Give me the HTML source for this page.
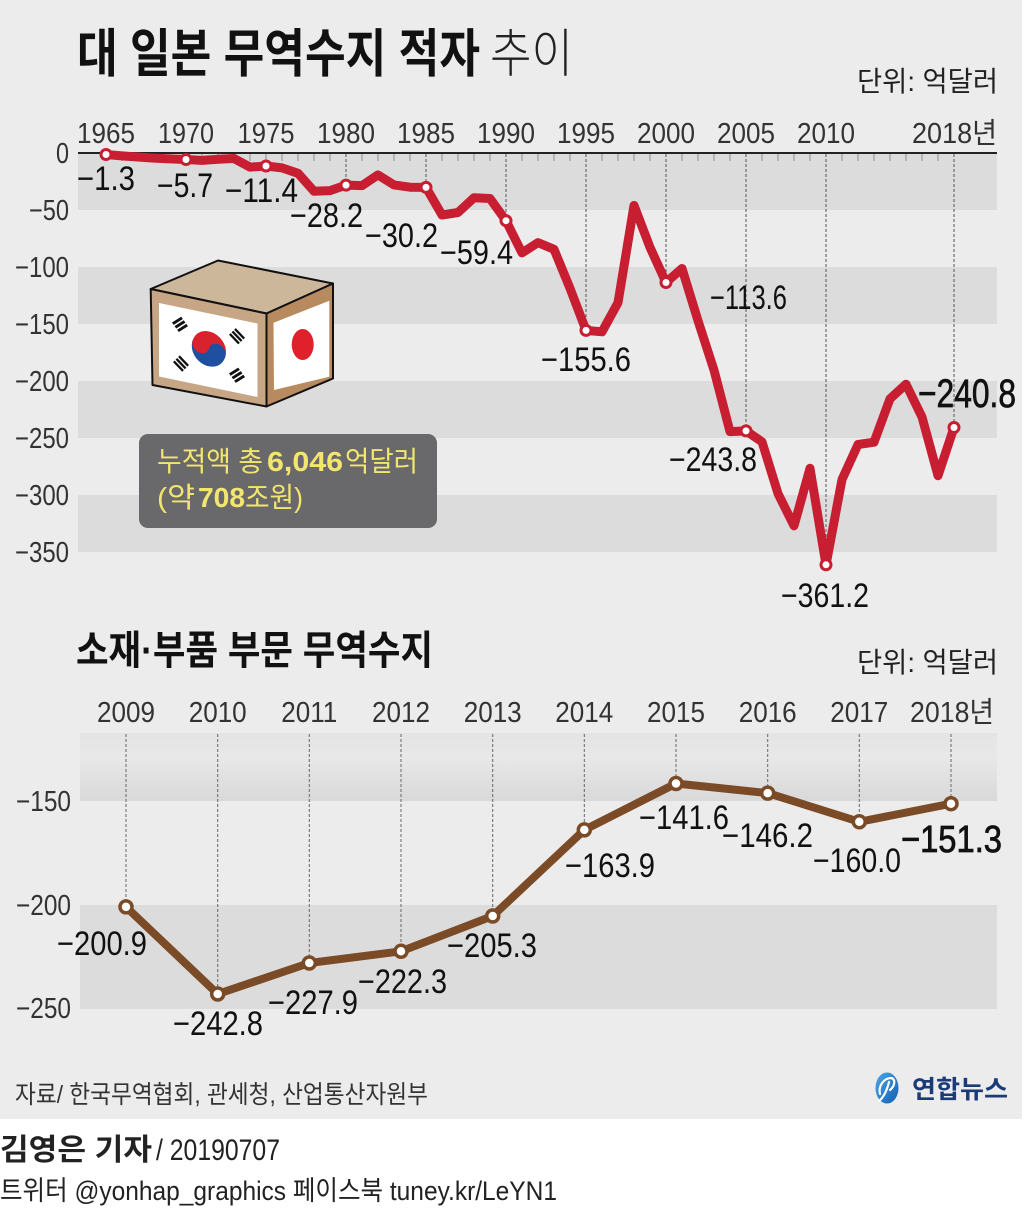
<!DOCTYPE html>
<html><head><meta charset="utf-8"><style>
html,body{margin:0;padding:0;background:#fff;}
svg{display:block;}
</style></head><body>
<svg xmlns="http://www.w3.org/2000/svg" width="1024" height="1208" viewBox="0 0 1024 1208">
<defs>
<linearGradient id="g1" x1="0" y1="0" x2="0" y2="1">
<stop offset="0" stop-color="#e4e4e5"/><stop offset="0.35" stop-color="#e8e8e8"/><stop offset="1" stop-color="#d9d9da"/>
</linearGradient>
<linearGradient id="lg" x1="0" y1="0" x2="1" y2="1">
<stop offset="0" stop-color="#4aa6ea"/><stop offset="1" stop-color="#1460b0"/>
</linearGradient>
</defs>
<rect width="1024" height="1208" fill="#ffffff"/>
<rect x="0" y="0" width="1022" height="1119" fill="#ececec"/>

<!-- Title -->
<g font-family="'Liberation Sans','Noto Sans CJK KR',sans-serif">
<text x="77" y="72" font-size="52" font-weight="bold" fill="#111" textLength="403" lengthAdjust="spacingAndGlyphs">대 일본 무역수지 적자</text>
<text x="490" y="72" font-size="52" font-weight="300" fill="#222" textLength="83" lengthAdjust="spacingAndGlyphs">추이</text>
<text x="857" y="91" font-size="28" fill="#222" textLength="141" lengthAdjust="spacingAndGlyphs">단위: 억달러</text>
</g>

<!-- Top chart bands -->
<g fill="#dcdcdd">
<rect x="78" y="153" width="919" height="57"/>
<rect x="78" y="267" width="919" height="57"/>
<rect x="78" y="381" width="919" height="57"/>
<rect x="78" y="495" width="919" height="57"/>
</g>

<!-- ticks -->
<g stroke="#8a8a8a" stroke-width="1">
<path d="M122 153v8M138 153v8M154 153v8M170 153v8M186 153v8M202 153v8M218 153v8M234 153v8M250 153v8M266 153v8M282 153v8M298 153v8M314 153v8M330 153v8M362 153v8M378 153v8M394 153v8M410 153v8M442 153v8M458 153v8M474 153v8M490 153v8M522 153v8M538 153v8M554 153v8M570 153v8M602 153v8M618 153v8M634 153v8M650 153v8M682 153v8M698 153v8M714 153v8M730 153v8M762 153v8M778 153v8M794 153v8M810 153v8M842 153v8M858 153v8M874 153v8M890 153v8M906 153v8M922 153v8M938 153v8"/>
</g>
<!-- dashed verticals top -->
<g stroke="#555" stroke-width="1" stroke-dasharray="3 2" fill="none">
<path d="M346 154V179M426 154V181M506 154V214M586 154V324M666 154V276M746 154V425M826 154V558M954 154V421"/>
</g>
<line x1="78" y1="153" x2="997" y2="153" stroke="#222" stroke-width="2"/>

<!-- Top axis labels -->
<g font-family="'Liberation Sans',sans-serif" font-size="29" fill="#333" text-anchor="middle">
<text x="106" y="143" textLength="58" lengthAdjust="spacingAndGlyphs">1965</text>
<text x="186" y="143" textLength="56" lengthAdjust="spacingAndGlyphs">1970</text>
<text x="266" y="143" textLength="57" lengthAdjust="spacingAndGlyphs">1975</text>
<text x="346" y="143" textLength="58" lengthAdjust="spacingAndGlyphs">1980</text>
<text x="426" y="143" textLength="58" lengthAdjust="spacingAndGlyphs">1985</text>
<text x="506" y="143" textLength="58" lengthAdjust="spacingAndGlyphs">1990</text>
<text x="586" y="143" textLength="58" lengthAdjust="spacingAndGlyphs">1995</text>
<text x="666" y="143" textLength="58" lengthAdjust="spacingAndGlyphs">2000</text>
<text x="746" y="143" textLength="58" lengthAdjust="spacingAndGlyphs">2005</text>
<text x="826" y="143" textLength="58" lengthAdjust="spacingAndGlyphs">2010</text>
</g>
<text x="912" y="143" font-family="'Liberation Sans','Noto Sans CJK KR',sans-serif" font-size="29" fill="#333" textLength="85" lengthAdjust="spacingAndGlyphs">2018년</text>
<g font-family="'Liberation Sans',sans-serif" font-size="29" fill="#333" text-anchor="end">
<text x="69" y="163" textLength="13" lengthAdjust="spacingAndGlyphs">0</text>
<text x="69" y="220" textLength="40" lengthAdjust="spacingAndGlyphs">−50</text>
<text x="69" y="277" textLength="54" lengthAdjust="spacingAndGlyphs">−100</text>
<text x="69" y="334" textLength="54" lengthAdjust="spacingAndGlyphs">−150</text>
<text x="69" y="391" textLength="54" lengthAdjust="spacingAndGlyphs">−200</text>
<text x="69" y="448" textLength="54" lengthAdjust="spacingAndGlyphs">−250</text>
<text x="69" y="505" textLength="54" lengthAdjust="spacingAndGlyphs">−300</text>
<text x="69" y="562" textLength="54" lengthAdjust="spacingAndGlyphs">−350</text>
</g>

<!-- Top line -->
<polyline fill="none" stroke="#c81e32" stroke-width="9" stroke-linejoin="round" stroke-linecap="round"
points="106,154.5 122,155.9 138,157.0 154,158.1 170,158.9 186,159.5 202,160.4 218,159.3 234,158.5 250,167.1 266,166.0 282,167.9 298,173.3 314,191.2 330,190.6 346,185.1 362,185.6 378,174.9 394,184.9 410,187.2 426,187.4 442,215.0 458,212.5 474,197.7 490,198.5 506,220.7 522,252.9 538,242.6 554,249.3 570,288.3 586,330.4 602,331.8 618,302.7 634,205.4 650,247.4 666,282.5 682,268.5 698,320.7 714,370.1 730,431.6 746,430.9 762,441.8 778,493.6 794,525.8 810,468.3 826,564.8 842,479.5 858,444.5 874,442.2 890,398.8 906,384.2 922,417.0 938,475.7 954,427.5"/>
<g fill="#fff" stroke="#c81e32" stroke-width="3">
<circle cx="106" cy="154.5" r="5"/><circle cx="186" cy="159.5" r="5"/><circle cx="266" cy="166" r="5"/>
<circle cx="346" cy="185.1" r="5"/><circle cx="426" cy="187.4" r="5"/><circle cx="506" cy="220.7" r="5"/>
<circle cx="586" cy="330.4" r="5"/><circle cx="666" cy="282.5" r="5"/><circle cx="746" cy="430.9" r="5"/>
<circle cx="826" cy="564.8" r="5"/><circle cx="954" cy="427.5" r="5"/>
</g>

<!-- Top data labels -->
<g font-family="'Liberation Sans',sans-serif" font-size="34" fill="#111">
<text x="77" y="190" textLength="58" lengthAdjust="spacingAndGlyphs">−1.3</text>
<text x="157" y="197" textLength="56" lengthAdjust="spacingAndGlyphs">−5.7</text>
<text x="225" y="202" textLength="73" lengthAdjust="spacingAndGlyphs">−11.4</text>
<text x="290" y="227" textLength="73" lengthAdjust="spacingAndGlyphs">−28.2</text>
<text x="365" y="247" textLength="73" lengthAdjust="spacingAndGlyphs">−30.2</text>
<text x="440" y="264" textLength="73" lengthAdjust="spacingAndGlyphs">−59.4</text>
<text x="541" y="371" textLength="90" lengthAdjust="spacingAndGlyphs">−155.6</text>
<text x="710" y="309" textLength="77" lengthAdjust="spacingAndGlyphs">−113.6</text>
<text x="669" y="471" textLength="88" lengthAdjust="spacingAndGlyphs">−243.8</text>
<text x="781" y="607" textLength="88" lengthAdjust="spacingAndGlyphs">−361.2</text>
</g>
<text x="918" y="407" font-family="'Liberation Sans',sans-serif" font-size="40" fill="#111" stroke="#111" stroke-width="0.7" textLength="98" lengthAdjust="spacingAndGlyphs">−240.8</text>

<!-- Box illustration -->
<g stroke="#111" stroke-width="2" stroke-linejoin="round">
<polygon points="150.7,289 218,260.5 333,283.5 266.5,313.5" fill="#cdb79b"/>
<polygon points="150.7,289 266.5,313.5 266.5,406.5 152.5,385" fill="#c6a684"/>
<polygon points="266.5,313.5 333,283.5 333,378.5 266.5,406.5" fill="#b88a5f"/>
</g>
<g transform="translate(159,303) skewY(11.76)">
<rect x="0" y="0" width="98.5" height="73.5" fill="#fff"/>
<g transform="translate(50,35) rotate(15)">
<circle r="17" fill="#d8222e"/>
<path d="M-17,0 L17,0 L17,1 A17,17 0 0 1 -17,1 Z" fill="#1f4fa0"/>
<path d="M-17,0 A17,17 0 0 0 17,0 Z" fill="#1f4fa0"/>
<circle cx="-8.5" cy="0" r="8.5" fill="#d8222e"/>
<circle cx="8.5" cy="0" r="8.5" fill="#1f4fa0"/>
</g>
<g stroke="#111" stroke-width="2.6">
<g transform="translate(21,17) rotate(-40)"><path d="M-6,-4h12M-6,0h12M-6,4h12"/></g>
<g transform="translate(78,17) rotate(40)"><path d="M-6,-4h12M-6,0h12M-6,4h12"/></g>
<g transform="translate(22,56) rotate(40)"><path d="M-6,-4h12M-6,0h12M-6,4h12"/></g>
<g transform="translate(78,56) rotate(-40)"><path d="M-6,-4h12M-6,0h12M-6,4h12"/></g>
</g>
</g>
<polygon points="273.5,322.7 329.3,300.7 329.3,376.7 274,390" fill="#fff"/>
<ellipse cx="302.7" cy="344.5" rx="11" ry="15.5" fill="#e0202a"/>

<!-- Callout -->
<rect x="139" y="434" width="298" height="94" rx="9" fill="#69696b"/>
<g font-family="'Liberation Sans','Noto Sans CJK KR',sans-serif" font-size="28" fill="#f3e66e">
<text x="157" y="471" textLength="106" lengthAdjust="spacingAndGlyphs">누적액 총</text>
<text x="267" y="471" font-weight="bold" textLength="76" lengthAdjust="spacingAndGlyphs">6,046</text>
<text x="345" y="471" textLength="73" lengthAdjust="spacingAndGlyphs">억달러</text>
<text x="157" y="507" textLength="38" lengthAdjust="spacingAndGlyphs">(약</text>
<text x="198" y="507" font-weight="bold" textLength="47" lengthAdjust="spacingAndGlyphs">708</text>
<text x="245" y="507" textLength="58" lengthAdjust="spacingAndGlyphs">조원)</text>
</g>

<!-- Bottom chart -->
<g font-family="'Liberation Sans','Noto Sans CJK KR',sans-serif">
<text x="76" y="664" font-size="40" font-weight="bold" fill="#111" textLength="357" lengthAdjust="spacingAndGlyphs">소재·부품 부문 무역수지</text>
<text x="857" y="672" font-size="28" fill="#222" textLength="141" lengthAdjust="spacingAndGlyphs">단위: 억달러</text>
</g>
<rect x="80" y="733" width="917" height="68" fill="url(#g1)"/>
<rect x="80" y="905" width="917" height="104" fill="#dcdcdd"/>

<g stroke="#666" stroke-width="1" stroke-dasharray="3 2" fill="none">
<path d="M126 734V900M217.7 734V987M309.3 734V956M401 734V944M492.7 734V909M584.3 734V823M676 734V777M767.7 734V786M859.3 734V815M951 734V797"/>
</g>

<g font-family="'Liberation Sans',sans-serif" font-size="29" fill="#333" text-anchor="middle">
<text x="126" y="722" textLength="58" lengthAdjust="spacingAndGlyphs">2009</text>
<text x="217.7" y="722" textLength="58" lengthAdjust="spacingAndGlyphs">2010</text>
<text x="309.3" y="722" textLength="56" lengthAdjust="spacingAndGlyphs">2011</text>
<text x="401" y="722" textLength="58" lengthAdjust="spacingAndGlyphs">2012</text>
<text x="492.7" y="722" textLength="58" lengthAdjust="spacingAndGlyphs">2013</text>
<text x="584.3" y="722" textLength="58" lengthAdjust="spacingAndGlyphs">2014</text>
<text x="676" y="722" textLength="58" lengthAdjust="spacingAndGlyphs">2015</text>
<text x="767.7" y="722" textLength="58" lengthAdjust="spacingAndGlyphs">2016</text>
<text x="859.3" y="722" textLength="58" lengthAdjust="spacingAndGlyphs">2017</text>
</g>
<text x="910" y="722" font-family="'Liberation Sans','Noto Sans CJK KR',sans-serif" font-size="29" fill="#333" textLength="84" lengthAdjust="spacingAndGlyphs">2018년</text>
<g font-family="'Liberation Sans',sans-serif" font-size="29" fill="#333" text-anchor="end">
<text x="71" y="811" textLength="55" lengthAdjust="spacingAndGlyphs">−150</text>
<text x="71" y="915" textLength="55" lengthAdjust="spacingAndGlyphs">−200</text>
<text x="71" y="1018" textLength="55" lengthAdjust="spacingAndGlyphs">−250</text>
</g>

<polyline fill="none" stroke="#7a4b26" stroke-width="8" stroke-linejoin="round" stroke-linecap="round"
points="126,906.9 217.7,994 309.3,963 401,951.3 492.7,916 584.3,829.9 676,783.5 767.7,793.1 859.3,821.8 951,803.7"/>
<g fill="#fff" stroke="#7a4b26" stroke-width="3.5">
<circle cx="126" cy="906.9" r="6"/><circle cx="217.7" cy="994" r="6"/><circle cx="309.3" cy="963" r="6"/>
<circle cx="401" cy="951.3" r="6"/><circle cx="492.7" cy="916" r="6"/><circle cx="584.3" cy="829.9" r="6"/>
<circle cx="676" cy="783.5" r="6"/><circle cx="767.7" cy="793.1" r="6"/><circle cx="859.3" cy="821.8" r="6"/>
<circle cx="951" cy="803.7" r="6"/>
</g>

<g font-family="'Liberation Sans',sans-serif" font-size="34" fill="#111">
<text x="57" y="955" textLength="90" lengthAdjust="spacingAndGlyphs">−200.9</text>
<text x="173" y="1035" textLength="90" lengthAdjust="spacingAndGlyphs">−242.8</text>
<text x="268" y="1014" textLength="90" lengthAdjust="spacingAndGlyphs">−227.9</text>
<text x="358" y="993" textLength="89" lengthAdjust="spacingAndGlyphs">−222.3</text>
<text x="447" y="957" textLength="90" lengthAdjust="spacingAndGlyphs">−205.3</text>
<text x="565" y="877" textLength="90" lengthAdjust="spacingAndGlyphs">−163.9</text>
<text x="639" y="829" textLength="90" lengthAdjust="spacingAndGlyphs">−141.6</text>
<text x="722" y="847" textLength="91" lengthAdjust="spacingAndGlyphs">−146.2</text>
<text x="813" y="872" textLength="88" lengthAdjust="spacingAndGlyphs">−160.0</text>
</g>
<text x="901" y="852" font-family="'Liberation Sans',sans-serif" font-size="38" fill="#111" stroke="#111" stroke-width="0.8" textLength="101" lengthAdjust="spacingAndGlyphs">−151.3</text>

<!-- Source & logo -->
<g font-family="'Liberation Sans','Noto Sans CJK KR',sans-serif">
<text x="15" y="1103" font-size="25" fill="#333" textLength="413" lengthAdjust="spacingAndGlyphs">자료/ 한국무역협회, 관세청, 산업통산자원부</text>
<text x="912" y="1098" font-size="25" font-weight="bold" fill="#1b3a78" textLength="96" lengthAdjust="spacingAndGlyphs">연합뉴스</text>
</g>
<ellipse cx="887" cy="1088" rx="11.5" ry="15.5" fill="url(#lg)"/>
<path d="M880,1094 C878,1086 884,1078 891,1078 C896,1079 895,1086 890,1090 M889,1082 C887,1090 884,1097 879,1101" fill="none" stroke="#fff" stroke-width="2.2" stroke-linecap="round"/>

<!-- Footer -->
<g font-family="'Liberation Sans','Noto Sans CJK KR',sans-serif" fill="#222">
<text x="0" y="1160" font-size="30" font-weight="bold" textLength="152" lengthAdjust="spacingAndGlyphs">김영은 기자</text>
<text x="156" y="1160" font-size="30" textLength="124" lengthAdjust="spacingAndGlyphs">/ 20190707</text>
<text x="0" y="1200" font-size="27" textLength="557" lengthAdjust="spacingAndGlyphs">트위터 @yonhap_graphics  페이스북 tuney.kr/LeYN1</text>
</g>
</svg>
</body></html>
